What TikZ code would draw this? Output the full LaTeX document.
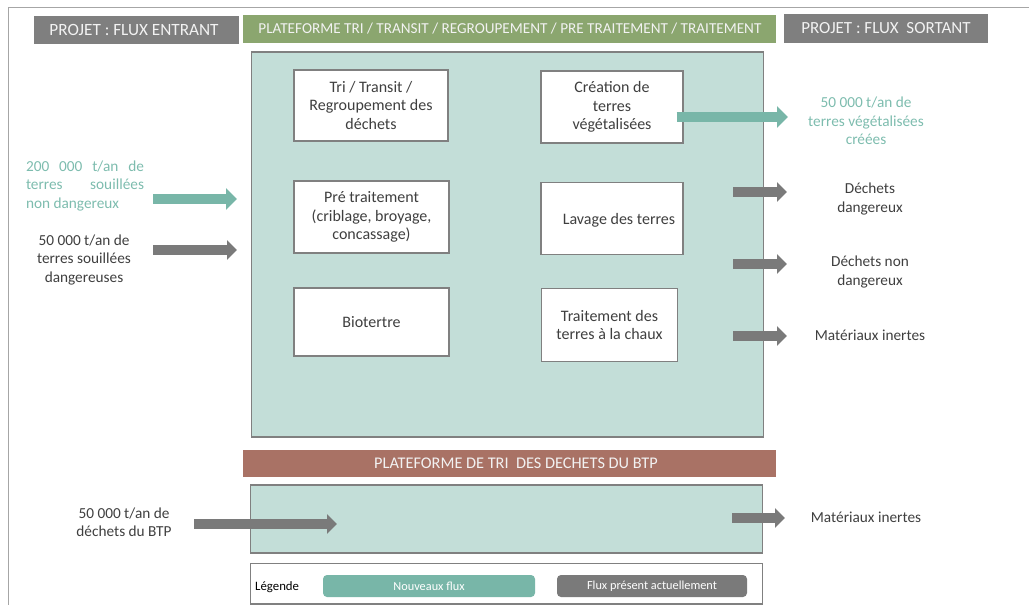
\documentclass[tikz,border=0pt]{standalone}
\usepackage{fontspec}
\setmainfont{Carlito}
\usetikzlibrary{arrows.meta}

\definecolor{framegray}{HTML}{A6A6A6}
\definecolor{headgray}{HTML}{7F7F7F}
\definecolor{headgreen}{HTML}{8BA66F}
\definecolor{headbrown}{HTML}{A97265}
\definecolor{zonefill}{HTML}{C3DED8}
\definecolor{edgegray}{HTML}{808080}
\definecolor{flowteal}{HTML}{78B6A8}
\definecolor{flowgray}{HTML}{7A7A7A}
\definecolor{txtteal}{HTML}{7DBCAE}
\definecolor{txtdark}{HTML}{3F3F3F}
\definecolor{headtxt}{HTML}{F2F2F2}

\newcommand{\bodysize}{\fontsize{15.3}{18.5}\selectfont}
\newcommand{\boxsize}{\fontsize{16}{18.5}\selectfont}
\newcommand{\legsize}{\fontsize{12.3}{14}\selectfont}

\tikzset{
  header/.style={inner sep=0pt, text=headtxt, anchor=center},
  zone/.style={draw=edgegray, line width=1.3pt, fill=zonefill, inner sep=0pt},
  stepbox/.style={draw=edgegray, line width=1.2pt, fill=white, inner sep=0pt,
    text=txtdark, font=\boxsize, align=center},
  lbl/.style={text=txtdark, font=\bodysize, align=center, inner sep=0pt},
  lblteal/.style={text=txtteal, font=\bodysize, align=center, inner sep=0pt},
  newflow/.style={draw=flowteal, line width=10pt,
    -{Triangle[length=11pt,width=21pt]}},
  oldflow/.style={draw=flowgray, line width=9.5pt,
    -{Triangle[length=10pt,width=19pt]}},
  legkey/.style={rounded corners=4pt, inner sep=0pt, text=white,
    font=\legsize, minimum height=22pt},
}

\begin{document}
\begin{tikzpicture}[x=1pt, y=-1pt]
\useasboundingbox (0,0) rectangle (1029,605);

% outer frame (top and left edges)
\draw[framegray, line width=1.6pt] (1029,7.5) -- (8.5,7.5) -- (8.5,605);

% column headers
\fill[headgray] (34,16) rectangle (239,44);
\node[header, font=\fontsize{17.2}{20}\selectfont] (hin) at (134,30) {PROJET : FLUX ENTRANT};
\fill[headgreen] (243,15) rectangle (776,43);
\node[header, font=\fontsize{15.2}{18}\selectfont] (hplat) at (510,29) {PLATEFORME TRI / TRANSIT / REGROUPEMENT / PRE TRAITEMENT / TRAITEMENT};
\fill[headgray] (784,14) rectangle (988,43);
\node[header, font=\fontsize{17}{20}\selectfont] (hout) at (886,28.5) {PROJET : FLUX \ SORTANT};

% treatment platform
\node[zone, minimum width=512pt, minimum height=385pt] (plat) at (507.5,244.5) {};

\node[stepbox, minimum width=154pt, minimum height=71pt] (tri) at (371,105.5)
  {Tri / Transit /\\Regroupement des\\déchets};
\node[stepbox, minimum width=142pt, minimum height=72pt] (crea) at (612,107)
  {Création de\\terres\\végétalisées};
\node[stepbox, minimum width=155pt, minimum height=72pt] (pre) at (371.5,217)
  {Pré traitement\\(criblage, broyage,\\concassage)};
\node[stepbox, minimum width=142pt, minimum height=72pt] (lav) at (612,218.5) {};
\node[lbl, font=\boxsize] (lavt) at (619,220) {Lavage des terres};
\node[stepbox, minimum width=155pt, minimum height=68pt] (bio) at (371.5,322)
  {Biotertre};
\node[stepbox, minimum width=136pt, minimum height=73pt] (chaux) at (609.5,325)
  {Traitement des\\terres à la chaux};

% incoming flows
\node[lblteal, text width=118pt, align=justify] (in1) at (85,186)
  {\makebox[118pt][s]{200 000 t/an de}\\\makebox[118pt][s]{terres souillées}\\non dangereux};
\node[lbl] (in2) at (84,260) {50 000 t/an de\\terres souillées\\dangereuses};
\coordinate (in1a) at (153,199);
\coordinate (in1b) at (237,199);
\coordinate (in2a) at (153,250);
\coordinate (in2b) at (237,250);
\draw[newflow] (in1a) -- (in1b);
\draw[oldflow] (in2a) -- (in2b);

% outgoing flows
\node[lblteal] (out1) at (866,121) {50 000 t/an de\\terres végétalisées\\créées};
\node[lbl] (out2) at (870,199) {Déchets\\dangereux};
\node[lbl] (out3) at (870,272) {Déchets non\\dangereux};
\node[lbl] (out4) at (870,335) {Matériaux inertes};
\path (crea.east) ++(-7,10) coordinate (o1a);
\coordinate (o1b) at (788,117);
\coordinate (o2a) at (733,192);
\coordinate (o2b) at (787,192);
\coordinate (o3a) at (733,264);
\coordinate (o3b) at (787,264);
\coordinate (o4a) at (733,336);
\coordinate (o4b) at (787,336);
\draw[newflow] (o1a) -- (o1b);
\draw[oldflow] (o2a) -- (o2b);
\draw[oldflow] (o3a) -- (o3b);
\draw[oldflow] (o4a) -- (o4b);

% construction waste sorting platform
\fill[headbrown] (243,450) rectangle (776,477);
\node[header, font=\fontsize{16.3}{19}\selectfont] (hbtp) at (516,463.5) {PLATEFORME DE TRI \ DES DECHETS DU BTP};
\node[zone, minimum width=512pt, minimum height=68pt] (btp) at (506.5,519) {};
\node[lbl] (inbtp) at (124,522) {50 000 t/an de\\déchets du BTP};
\coordinate (ib1) at (194,524);
\coordinate (ib2) at (337,524);
\draw[oldflow] (ib1) -- (ib2);
\node[lbl] (outbtp) at (866,517) {Matériaux inertes};
\coordinate (ob1) at (732,518);
\coordinate (ob2) at (785,518);
\draw[oldflow] (ob1) -- (ob2);

% legend
\draw[edgegray, line width=1.2pt, fill=white] (250.5,563.5) rectangle (762.5,604);
\node[text=black, font=\fontsize{12.8}{14}\selectfont, anchor=west, inner sep=0pt] (leg) at (255,587) {Légende};
\node[legkey, fill=flowteal, minimum width=212pt] (kn) at (429,586) {Nouveaux flux};
\node[legkey, fill=flowgray, minimum width=190pt] (ko) at (652,586) {Flux présent actuellement};
\end{tikzpicture}
\end{document}
